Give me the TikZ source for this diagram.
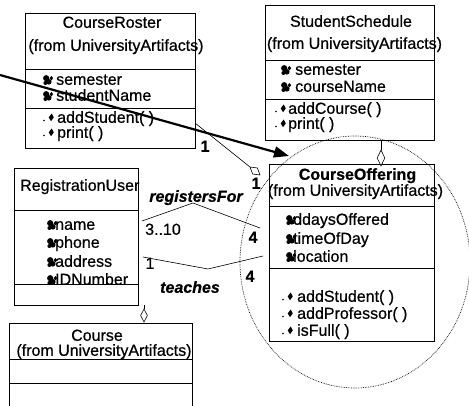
\documentclass[tikz,border=0pt]{standalone}
\usepackage{fontspec}
\setmainfont{Liberation Sans}[FakeBold=0.6]
\usetikzlibrary{arrows.meta,shapes.geometric}
\begin{document}
\begin{tikzpicture}[x=1pt,y=-1pt,
  cls/.style={draw, line width=0.8pt, rectangle, inner sep=0pt},
  sepl/.style={line width=0.8pt},
  tx/.style={inner sep=0pt, text height=10pt, text depth=2.4pt, font=\fontsize{16}{17}\selectfont},
  txl/.style={tx, anchor=west},
  ttlb/.style={tx, font=\fontsize{16}{17}\selectfont\bfseries},
  mul/.style={tx, font=\fontsize{16}{17}\selectfont\bfseries},
  rolelab/.style={tx, font=\fontsize{16}{17}\selectfont\bfseries\itshape},
  agg/.style={draw, diamond, line width=0.6pt, inner sep=0pt, fill=white},
  conn/.style={line width=0.6pt},
  attricon/.pic={
    \fill (-1.8,-1.8) circle (3.1pt);
    \fill (0.8,1.8) circle (2.8pt);
    \fill (-2.6,3) circle (2pt);
    \fill (3.4,-4) -- (5.2,-1.8) -- (3.4,0.4) -- (1.6,-1.8) -- cycle;
  },
  opicon/.pic={
    \fill (-7,2.5) circle (0.9pt);
    \fill (0.7,-4.5) -- (2.8,-0.6) -- (0,3.2) -- (-2.3,-0.6) -- cycle;
  }
]
\path[use as bounding box, fill=white] (0,0) rectangle (469,406);

% ---------- CourseRoster ----------
\node[cls, minimum width=170pt, minimum height=135pt] (roster) at (110,80.5) {};
\draw[sepl] (25,69) -- (195,69);
\draw[sepl] (25,108) -- (195,108);
\node[tx] (rosterT) at (112,24) {CourseRoster};
\node[tx] (rosterF) at (116,47) {(from UniversityArtifacts)};
\node[txl] (rosterA1) at (56,81) {semester};
\node[txl] (rosterA2) at (56,97) {studentName};
\node[txl] (rosterO1) at (57,119) {addStudent( )};
\node[txl] (rosterO2) at (57,134) {print( )};
\pic at (48,80) {attricon};
\pic at (48,96) {attricon};
\pic at (51,118) {opicon};
\pic at (51,133) {opicon};

% ---------- StudentSchedule ----------
\node[cls, minimum width=169pt, minimum height=135pt] (sched) at (349.5,72.5) {};
\draw[sepl] (265,60) -- (434,60);
\draw[sepl] (265,99) -- (434,99);
\node[tx] (schedT) at (351,23) {StudentSchedule};
\node[tx] (schedF) at (354.5,45) {(from UniversityArtifacts)};
\node[txl] (schedA1) at (295,71) {semester};
\node[txl] (schedA2) at (295,88) {courseName};
\node[txl] (schedO1) at (288,110) {addCourse( )};
\node[txl] (schedO2) at (288,125) {print( )};
\pic at (286,70) {attricon};
\pic at (286,87) {attricon};
\pic at (283,109) {opicon};
\pic at (283,124) {opicon};

% ---------- CourseOffering ----------
\node[cls, minimum width=165pt, minimum height=177pt] (offer) at (351.5,252.5) {};
\draw[sepl] (269,206) -- (434,206);
\draw[sepl] (269,268) -- (434,268);
\node[ttlb] (offerT) at (357.5,176) {CourseOffering};
\node[tx] (offerF) at (355.5,192) {(from UniversityArtifacts)};
\node[txl] (offerA1) at (293,221) {ddaysOffered};
\node[txl] (offerA2) at (293,240) {timeOfDay};
\node[txl] (offerA3) at (293,258) {location};
\node[txl] (offerO1) at (297,298) {addStudent( )};
\node[txl] (offerO2) at (297,315) {addProfessor( )};
\node[txl] (offerO3) at (297,332) {isFull( )};
\pic at (291,220) {attricon};
\pic at (291,239) {attricon};
\pic at (291,257) {attricon};
\pic at (290,297) {opicon};
\pic at (290,314) {opicon};
\pic at (290,331) {opicon};

% ---------- RegistrationUser ----------
\node[cls, minimum width=124pt, minimum height=137pt] (reg) at (76,236.5) {};
\draw[sepl] (14,210) -- (138,210);
\draw[sepl] (14,284) -- (138,284);
\node[txl] (regT) at (20,187) {RegistrationUser};
\node[txl] (regA1) at (55,226) {name};
\node[txl] (regA2) at (55,244) {phone};
\node[txl] (regA3) at (55,263) {address};
\node[txl] (regA4) at (55,281) {IDNumber};
\pic at (52,225) {attricon};
\pic at (52,243) {attricon};
\pic at (52,262) {attricon};
\pic at (52,280) {attricon};

% ---------- Course ----------
\node[cls, minimum width=183pt, minimum height=95pt] (course) at (100.5,370.5) {};
\draw[sepl] (9,359) -- (192,359);
\draw[sepl] (9,383) -- (192,383);
\node[tx] (courseT) at (97,337) {Course};
\node[tx] (courseF) at (104,352) {(from UniversityArtifacts)};

% ---------- dotted highlight ----------
\draw[densely dotted, line width=0.7pt] (355,262) ellipse [x radius=115pt, y radius=126pt];

% ---------- connectors ----------
\coordinate (arrS) at (0,75);
\coordinate (arrE) at (289,156);
\draw[line width=2.2pt, -{Triangle[length=15pt,width=11pt]}] (arrS) -- (arrE);

\coordinate (crOut) at (195,123);
\node[agg, minimum width=13pt, minimum height=8pt, rotate=-38.7] (d1) at (255,171) {};
\draw[conn] (crOut) -- (d1.west);

\node[agg, minimum width=8pt, minimum height=16pt] (d2) at (381,158) {};
\draw[conn] (d2.north |- sched.south) -- (d2.north);

\node[agg, minimum width=7pt, minimum height=13pt] (d3) at (144,315.5) {};
\draw[conn] (d3.north |- reg.south) -- (d3.north);

\coordinate (rf1) at (142,221);
\coordinate (rf2) at (193,203);
\coordinate (rf3) at (260,228);
\draw[conn] (rf1) -- (rf2) -- (rf3);

\coordinate (te1) at (143,257);
\coordinate (te2) at (208,269);
\coordinate (te3) at (263,256);
\draw[conn] (te1) -- (te2) -- (te3);

% ---------- labels ----------
\node[mul] (m1) at (205,148) {1};
\node[mul] (m2) at (256,185) {1};
\node[rolelab] (rfL) at (196,198) {registersFor};
\node[tx] (m3) at (163,231) {3..10};
\node[mul] (m4) at (253,239) {4};
\node[tx] (m5) at (150,265) {1};
\node[mul] (m6) at (250,278) {4};
\node[rolelab] (teL) at (190,289) {teaches};
\end{tikzpicture}
\end{document}
